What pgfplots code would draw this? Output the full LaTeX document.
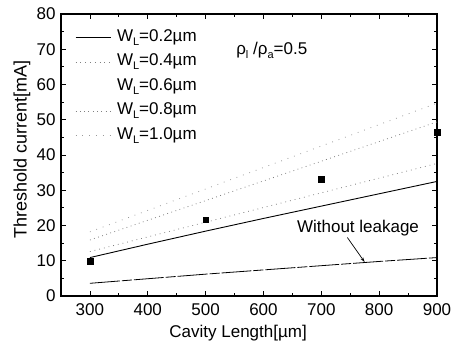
\documentclass[border=0pt]{standalone}
\usepackage{fontspec}
\setmainfont{Liberation Sans}
\usepackage{pgfplots}
\pgfplotsset{compat=1.18}
\usetikzlibrary{arrows.meta}
\newcommand\fs{\fontsize{17bp}{20bp}\selectfont}
\newcommand\fsy{\fontsize{18bp}{20bp}\selectfont}
\newcommand\sub[1]{\raisebox{-0.45ex}{\fontsize{11bp}{12bp}\selectfont #1}}
\pgfplotsset{mylegline/.style={legend image code/.code={\draw[##1] (0bp,0bp) -- (35bp,0bp);}}}
\begin{document}
\begin{tikzpicture}
\useasboundingbox (0,0) rectangle (452bp,343bp);
\begin{axis}[
  at={(61bp,47bp)}, anchor=south west,
  scale only axis, width=376bp, height=282bp,
  xmin=250, xmax=900, ymin=0, ymax=80,
  xtick={300,400,...,900}, ytick={0,10,...,80},
  minor x tick num=1, minor y tick num=1,
  tick align=inside,
  major tick length=5bp, minor tick length=3bp,
  axis line style={line width=1.1bp},
  every tick/.style={black, line width=0.8bp},
  tick label style={font=\fs},
  xticklabel style={yshift=-4bp},
  yticklabel style={xshift=-2bp},
  /pgf/number format/assume math mode=true,
  xlabel={Cavity Length[µm]}, ylabel={Threshold current[mA]},
  xlabel style={font=\fs, at={(axis description cs:0.471,-0.131)}, anchor=center},
  ylabel style={font=\fsy, at={(axis description cs:-0.104,0.52)}, anchor=center},
  clip=false,
  legend cell align=left,
  legend style={at={(axis description cs:0.037,0.95)}, anchor=north west,
    draw=none, fill=none, font=\fs, inner sep=0pt, row sep=5.5bp, column sep=5bp,
    nodes={inner sep=1bp, text height=12bp, text depth=5bp, minimum width=35bp}},
]
\addplot[mylegline, black, line width=0.9bp] coordinates {(300,10.9)(400,14.7)(500,18.4)(600,22.0)(700,25.5)(800,29.0)(900,32.5)};
\addlegendentry{W\sub{L}=0.2µm}
\addplot[mylegline, gray, line width=0.8bp, dash pattern=on 0.8bp off 4bp] coordinates {(300,12.6)(900,37.6)};
\addlegendentry{W\sub{L}=0.4µm}
\addlegendimage{empty legend}
\addlegendentry{W\sub{L}=0.6µm}
\addplot[mylegline, gray, line width=0.8bp, dash pattern=on 0.8bp off 3.5bp] coordinates {(300,15.9)(900,49.4)};
\addlegendentry{W\sub{L}=0.8µm}
\addplot[mylegline, gray!80, line width=0.8bp, dash pattern=on 0.8bp off 6bp] coordinates {(300,18.2)(900,54.7)};
\addlegendentry{W\sub{L}=1.0µm}
\addplot[black, line width=0.8bp, dash pattern=on 30bp off 2bp on 10bp off 2bp, forget plot] coordinates {(300,3.6)(400,4.9)(500,6.2)(600,7.4)(700,8.6)(800,9.8)(900,10.9)};
\addplot[only marks, mark=square*, mark size=2.8bp, black, forget plot] coordinates {(300,9.8)(500,21.7)(700,33.1)(900,46.4)};
\node[anchor=west, font=\fs] at (axis cs:547,69.8) {ρ\sub{l} /ρ\sub{a}=0.5};
\node[anchor=west, font=\fs] at (axis cs:652,19.3) {Without leakage};
\draw[line width=0.7bp, -{Stealth[length=5bp,width=3bp]}] (axis cs:745,16.6) -- (axis cs:775,9.6);
\end{axis}
\end{tikzpicture}
\end{document}
